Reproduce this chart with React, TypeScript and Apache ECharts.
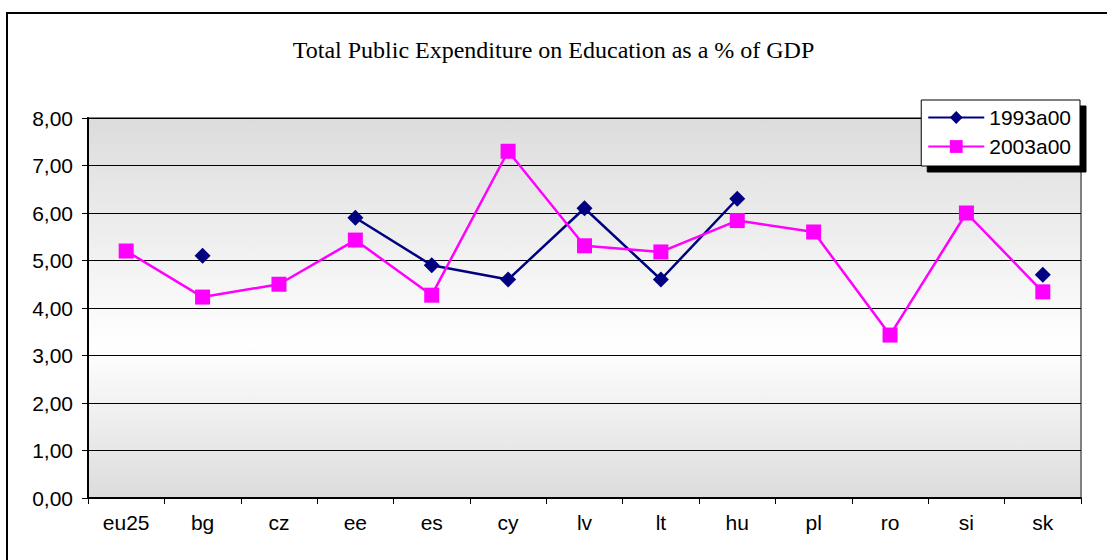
import React, { useEffect, useRef } from "react";
import * as echarts from "echarts";

const categories = ["eu25", "bg", "cz", "ee", "es", "cy", "lv", "lt", "hu", "pl", "ro", "si", "sk"];
const series1993 = [null, 5.1, null, 5.9, 4.9, 4.6, 6.1, 4.6, 6.3, null, null, null, 4.7];
const series2003 = [5.2, 4.23, 4.5, 5.43, 4.27, 7.3, 5.31, 5.18, 5.84, 5.6, 3.43, 6.0, 4.34];
const seriesNames = ["1993a00", "2003a00"];
const titleText = "Total Public Expenditure on Education as a % of GDP";

export default function App() {
  const ref = useRef<HTMLDivElement>(null);
  useEffect(() => {
    const chart = echarts.init(ref.current!, null, { renderer: "svg" });
    chart.setOption({
      animation: false,
      backgroundColor: "#ffffff",
      title: {
        text: titleText,
        left: "center",
        top: 33,
        textStyle: { fontFamily: "Liberation Serif", fontSize: 24, fontWeight: "normal", color: "#000" },
      },
      graphic: [
        {
          type: "rect",
          shape: { x: 7, y: 13, width: 1120, height: 580 },
          style: { fill: "none", stroke: "#000", lineWidth: 2 },
          z: 100,
        },
      ],
      legend: {
        orient: "vertical",
        right: 27,
        top: 100,
        itemWidth: 56,
        itemHeight: 16,
        itemGap: 8,
        padding: [7, 9, 9, 6],
        backgroundColor: "#ffffff",
        borderColor: "#000",
        borderWidth: 1,
        shadowColor: "#000",
        shadowBlur: 0,
        shadowOffsetX: 6,
        shadowOffsetY: 6,
        textStyle: { fontFamily: "Liberation Sans", fontSize: 21, color: "#000" },
        data: seriesNames,
      },
      grid: {
        left: 88,
        right: 26,
        top: 118,
        bottom: 62,
        show: true,
        borderColor: "#808080",
        borderWidth: 2,
        backgroundColor: {
          type: "linear",
          x: 0,
          y: 0,
          x2: 0,
          y2: 1,
          colorStops: [
            { offset: 0, color: "#dcdcdc" },
            { offset: 0.6, color: "#ffffff" },
            { offset: 1, color: "#dcdcdc" },
          ],
        },
      },
      xAxis: {
        type: "category",
        data: categories,
        boundaryGap: true,
        axisLine: { lineStyle: { color: "#000", width: 2 } },
        axisTick: { show: true, length: 6, lineStyle: { color: "#000" } },
        axisLabel: { fontFamily: "Liberation Sans", fontSize: 21, color: "#000", margin: 14 },
      },
      yAxis: {
        type: "value",
        min: 0,
        max: 8,
        interval: 1,
        axisLine: { show: true, lineStyle: { color: "#000", width: 2 } },
        axisTick: { show: true, length: 6, lineStyle: { color: "#000" } },
        axisLabel: {
          fontFamily: "Liberation Sans",
          fontSize: 21,
          color: "#000",
          margin: 15,
          formatter: (v: number) => v.toFixed(2).replace(".", ","),
        },
        splitLine: { show: true, lineStyle: { color: "#000", width: 1 } },
      },
      series: [
        {
          name: seriesNames[0],
          type: "line",
          data: series1993,
          symbol: "diamond",
          symbolSize: 16,
          lineStyle: { color: "#000080", width: 2.5 },
          itemStyle: { color: "#000080" },
          connectNulls: false,
        },
        {
          name: seriesNames[1],
          type: "line",
          data: series2003,
          symbol: "rect",
          symbolSize: 15,
          lineStyle: { color: "#ff00ff", width: 2.5 },
          itemStyle: { color: "#ff00ff" },
        },
      ],
    });
    return () => chart.dispose();
  }, []);
  return (
    <div
      ref={ref}
      style={{ position: "fixed", left: 0, top: 0, width: 1107, height: 560 }}
    />
  );
}
